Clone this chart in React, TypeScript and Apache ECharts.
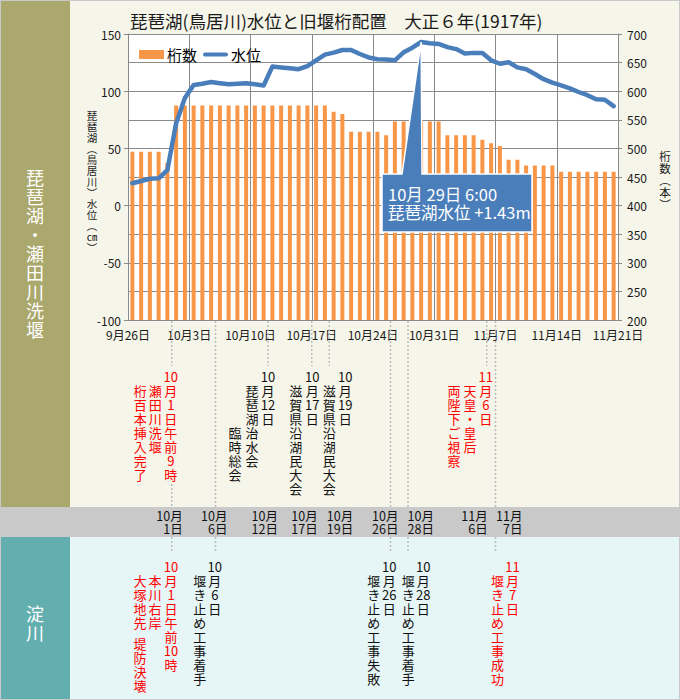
import React, { useEffect, useRef } from "react";
import * as echarts from "echarts";

const FONT = "'Noto Sans CJK JP', 'Noto Sans', sans-serif";

// ---------- data ----------
const chartTitle = "琵琶湖(鳥居川)水位と旧堰桁配置　大正６年(1917年)";
const xTickLabels = ["9月26日", "10月3日", "10月10日", "10月17日", "10月24日", "10月31日", "11月7日", "11月14日", "11月21日"];
const leftAxisName = ["琵", "琶", "湖", "︵", "鳥", "居", "川", "︶", "水", "位", "︵", "㎝", "︶"];
const rightAxisName = ["桁", "数", "︵", "本", "︶"];
const seriesNames = ["桁数", "水位"];

// daily values 9/26 .. 11/20 (plotted at noon of each day)
const barCounts = [
  494, 494, 494, 494, 475,
  575, 575, 575, 575, 575, 575, 575, 575, 575, 575, 575, 575, 575, 575, 575, 575, 575, 575,
  564, 560, 529, 529, 529, 529, 523,
  547, 547, 547, 547, 547, 547,
  523, 523, 523, 523, 515, 509, 504, 480, 480, 470, 470, 470, 470,
  459, 459, 459, 459, 459, 459, 459,
];
const waterLevels = [
  19.5, 21.5, 23.5, 23.8, 31, 72, 94, 105.5, 106.5, 108,
  107, 106, 106.5, 107, 106, 105, 121.5, 120.8, 120, 119.2,
  122, 127, 132, 133.7, 136, 136, 132.5, 129.5, 128, 127.8,
  127, 134, 138, 143, 142, 141.3, 138.5, 136.8, 133, 133.5,
  133.3, 127, 124, 125.3, 120.8, 119.2, 115, 110.5, 107.5, 105,
  102.5, 99.3, 96.5, 93, 92.5, 87,
];
const peakNote = ["10月 29日 6:00", "琵琶湖水位 +1.43m"];

const sideTitles = ["琵琶湖・瀬田川洗堰", "淀川"];

// event markers (days after 9/26)
const markerDays = [5, 10, 16, 21, 23, 30, 32, 41, 42];
const markerDates = ["10月1日", "10月6日", "10月12日", "10月17日", "10月19日", "10月26日", "10月28日", "11月6日", "11月7日"];

const topEvents = [
  { day: 5, red: true, cols: ["10月1日午前9時", "瀬田川洗堰", "桁百本挿入完了"] },
  { day: 16, red: false, cols: ["10月12日", "琵琶湖治水会", "臨時総会"] },
  { day: 21, red: false, cols: ["10月17日", "滋賀県沿湖民大会"] },
  { day: 23, red: false, cols: ["10月19日", "滋賀県沿湖民大会"] },
  { day: 41, red: true, cols: ["11月6日", "天皇・皇后", "両陛下ご視察"] },
];
const bottomEvents = [
  { day: 5, red: true, cols: ["10月1日午前10時", "本川右岸", "大塚地先", "堤防決壊"] },
  { day: 10, red: false, cols: ["10月6日", "堰き止め工事着手"] },
  { day: 30, red: false, cols: ["10月26日", "堰き止め工事失敗"] },
  { day: 32, red: false, cols: ["10月28日", "堰き止め工事着手"] },
  { day: 42, red: true, cols: ["11月7日", "堰き止め工事成功"] },
];

// ---------- layout ----------
const topLayout = [
  [{ dx: -1, row: 1 }, { dx: -16.5, row: 2 }, { dx: -31.5, row: 2 }],
  [{ dx: 0, row: 1 }, { dx: -16, row: 2 }, { dx: -33, row: 5 }],
  [{ dx: 0.5, row: 1 }, { dx: -16, row: 2 }],
  [{ dx: 16, row: 1 }, { dx: 0, row: 2 }],
  [{ dx: -1, row: 1 }, { dx: -16.7, row: 2 }, { dx: -32.7, row: 2 }],
];
const bottomLayout = [
  [{ dx: -0.7, row: 1 }, { dx: -16.7, row: 2 }, { dx: -31.7, row: 2 }, { dx: -31.7, row: 6.5 }],
  [{ dx: -0.7, row: 1 }, { dx: -15.7, row: 2 }],
  [{ dx: -1.2, row: 1 }, { dx: -16.7, row: 2 }],
  [{ dx: 15.3, row: 1 }, { dx: 0.3, row: 2 }],
  [{ dx: 17, row: 1 }, { dx: 2, row: 2 }],
];
const bandLabelOffsets = [11, 12, 10, 6, 24, 8, 26, 1, 27];

const TOP_ROW1 = 376;
const BOTTOM_ROW1 = 566;
const ROW = 14;
const BAND_TOP = 507;
const BAND_BOTTOM = 537;
const RED = "#FF0000";
const INK = "#111111";
const BLUE = "#4A7EBB";
const ORANGE = "#F79646";
const GRIDC = "#8A8A8A";

const tokenize = (s: string): string[] => s.match(/\d+|./gu) || [];

export default function App() {
  const ref = useRef<HTMLDivElement>(null);

  useEffect(() => {
    document.body.style.margin = "0";
    const chart = echarts.init(ref.current!, null, { renderer: "svg" });

    const option: any = {
      animation: false,
      title: {
        text: chartTitle,
        left: 125,
        top: 7,
        textStyle: { fontSize: 17.5, fontWeight: "normal", color: "#1a1a1a", fontFamily: FONT },
      },
      legend: {
        left: 134,
        top: 42,
        itemWidth: 25,
        itemHeight: 9,
        itemGap: 6,
        symbolKeepAspect: true,
        textStyle: { fontSize: 15, color: "#000", fontFamily: FONT, padding: [0, 0, 0, -2] },
        data: [
          { name: seriesNames[0], icon: "rect" },
          { name: seriesNames[1], icon: "path://M2.5,0H27.5A2.5,2.5,0,0,1,27.5,5H2.5A2.5,2.5,0,0,1,2.5,0Z" },
        ],
      },
      grid: { left: 128, right: 62, top: 34, bottom: 380, show: true, backgroundColor: "#FFFFFF", borderWidth: 0 },
      xAxis: {
        type: "value",
        min: 0,
        max: 56,
        interval: 7,
        axisLine: { lineStyle: { color: GRIDC } },
        axisTick: { show: true, length: 4, lineStyle: { color: GRIDC } },
        axisLabel: {
          fontSize: 12,
          color: "#1a1a1a",
          fontFamily: FONT,
          margin: 8,
          formatter: (v: number) => xTickLabels[Math.round(v / 7)] || "",
        },
        splitLine: { show: true, lineStyle: { color: GRIDC } },
      },
      yAxis: [
        {
          type: "value",
          min: -100,
          max: 150,
          interval: 50,
          axisLine: { show: true, lineStyle: { color: GRIDC } },
          axisTick: { show: true, length: 4, lineStyle: { color: GRIDC } },
          axisLabel: { fontSize: 12, color: "#1a1a1a", fontFamily: FONT, margin: 7 },
          splitLine: { show: false },
        },
        {
          type: "value",
          position: "right",
          min: 200,
          max: 700,
          interval: 50,
          axisLine: { show: true, lineStyle: { color: GRIDC } },
          axisTick: { show: true, length: 4, lineStyle: { color: GRIDC } },
          axisLabel: { fontSize: 12, color: "#1a1a1a", fontFamily: FONT, margin: 9 },
          splitLine: { show: true, lineStyle: { color: GRIDC } },
        },
      ],
      series: [
        {
          type: "bar",
          name: seriesNames[0],
          yAxisIndex: 1,
          barWidth: 4,
          itemStyle: { color: ORANGE },
          data: barCounts.map((v, i) => [i + 0.5, v]),
        },
        {
          type: "line",
          name: seriesNames[1],
          yAxisIndex: 0,
          symbol: "none",
          showSymbol: false,
          itemStyle: { color: BLUE },
          lineStyle: { color: BLUE, width: 4.5, join: "round", cap: "round" },
          data: waterLevels.map((v, i) => [i + 0.5, v]),
        },
      ],
    };
    chart.setOption(option);

    const px = (d: number) => chart.convertToPixel({ xAxisIndex: 0 }, d) as number;
    const gridBottom = chart.convertToPixel({ yAxisIndex: 0 }, -100) as number;

    const els: any[] = [];
    // backgrounds
    els.push({ type: "rect", z: -10, shape: { x: 0, y: 0, width: 680, height: 700 }, style: { fill: "#C9C9C9" } });
    els.push({ type: "rect", z: -9, shape: { x: 1, y: 1, width: 69, height: BAND_TOP - 1 }, style: { fill: "#AAA86C" } });
    els.push({ type: "rect", z: -9, shape: { x: 70, y: 1, width: 609, height: BAND_TOP - 1 }, style: { fill: "#F5F5E9" } });
    els.push({ type: "rect", z: -9, shape: { x: 1, y: BAND_BOTTOM, width: 69, height: 699 - BAND_BOTTOM }, style: { fill: "#63AEAF" } });
    els.push({ type: "rect", z: -9, shape: { x: 70, y: BAND_BOTTOM, width: 609, height: 699 - BAND_BOTTOM }, style: { fill: "#E6F5F5" } });

    // side panel titles
    const side = (t: string, cy: number) => {
      const toks = tokenize(t);
      els.push({
        type: "text",
        z: 5,
        x: 35,
        y: cy - (toks.length * 19) / 2,
        style: { text: toks.join("\n"), fill: "#FFFFFF", fontSize: 18, lineHeight: 19, fontFamily: FONT, align: "center", verticalAlign: "top" },
      });
    };
    side(sideTitles[0], 253);
    side(sideTitles[1], 622);

    // axis names
    els.push({
      type: "text", z: 5, x: 92, y: 181 - (leftAxisName.length * 11) / 2,
      style: { text: leftAxisName.join("\n"), fill: "#1a1a1a", fontSize: 10.5, lineHeight: 11, fontFamily: FONT, align: "center", verticalAlign: "top" },
    });
    els.push({
      type: "text", z: 5, x: 665, y: 180 - (rightAxisName.length * 12) / 2,
      style: { text: rightAxisName.join("\n"), fill: "#1a1a1a", fontSize: 11.5, lineHeight: 12, fontFamily: FONT, align: "center", verticalAlign: "top" },
    });

    // dotted marker lines and band labels
    const dotted = (x: number, y1: number, y2: number) =>
      els.push({ type: "line", z: 1, shape: { x1: x, y1, x2: x, y2 }, style: { stroke: "#BDBDBD", lineWidth: 1.5, lineDash: [2, 2] } });

    markerDays.forEach((d, i) => {
      const x = px(d);
      const ti = topEvents.findIndex((e) => e.day === d);
      const bi = bottomEvents.findIndex((e) => e.day === d);
      const y0 = gridBottom + 1;
      if (ti >= 0) {
        dotted(x, y0, 366);
        if (bi >= 0) {
          let endY = 366;
          topLayout[ti].forEach((c, ci) => {
            if (Math.abs(c.dx) < 4) {
              const n = tokenize(topEvents[ti].cols[ci]).length;
              endY = Math.max(endY, TOP_ROW1 - ROW / 2 + (c.row - 1 + n) * ROW);
            }
          });
          dotted(x, endY + 3, BAND_TOP);
          dotted(x, BAND_BOTTOM, 553);
        }
      } else {
        dotted(x, y0, BAND_TOP);
        dotted(x, BAND_BOTTOM, 553);
      }
      const m = markerDates[i].match(/(\d+月)(\d+日)/);
      const lbl = m ? m[1] + "\n" + m[2] : markerDates[i];
      els.push({
        type: "text", z: 5, x: x + bandLabelOffsets[i], y: (BAND_TOP + BAND_BOTTOM) / 2,
        style: { text: lbl, fill: INK, fontSize: 12.5, lineHeight: 13, fontFamily: FONT, align: "right", verticalAlign: "middle" },
      });
    });

    // vertical annotation columns
    const columns = (events: any[], layout: any[], row1: number) => {
      events.forEach((ev, ei) => {
        const x0 = px(ev.day);
        ev.cols.forEach((txt: string, ci: number) => {
          const L = layout[ei][ci];
          const toks = tokenize(txt);
          els.push({
            type: "text", z: 5, x: x0 + L.dx, y: row1 - ROW / 2 + (L.row - 1) * ROW,
            style: { text: toks.join("\n"), fill: ev.red ? RED : INK, fontSize: 13, lineHeight: ROW, fontFamily: FONT, align: "center", verticalAlign: "top" },
          });
        });
      });
    };
    columns(topEvents, topLayout, TOP_ROW1);
    columns(bottomEvents, bottomLayout, BOTTOM_ROW1);

    // callout at the peak water level
    let pk = 0;
    waterLevels.forEach((v, i) => { if (v > waterLevels[pk]) pk = i; });
    const apex = chart.convertToPixel({ xAxisIndex: 0, yAxisIndex: 0 }, [pk + 0.5, waterLevels[pk]]) as number[];
    const bx = 382, by = 174, bw = 150, bh = 58;
    els.push({
      type: "polygon", z: 20,
      shape: { points: [[bx, by], [bx + 20, by], [apex[0], apex[1]], [bx + 40, by], [bx + bw, by], [bx + bw, by + bh], [bx, by + bh]] },
      style: { fill: BLUE, stroke: "#FFFFFF", lineWidth: 1.5 },
    });
    els.push({
      type: "text", z: 21, x: bx + 6, y: by + bh / 2,
      style: { text: peakNote.join("\n"), fill: "#FFFFFF", fontSize: 16.5, lineHeight: 18, fontFamily: FONT, align: "left", verticalAlign: "middle" },
    });

    chart.setOption({ graphic: { elements: els } });

    return () => chart.dispose();
  }, []);

  return <div ref={ref} style={{ width: 680, height: 700 }} />;
}
